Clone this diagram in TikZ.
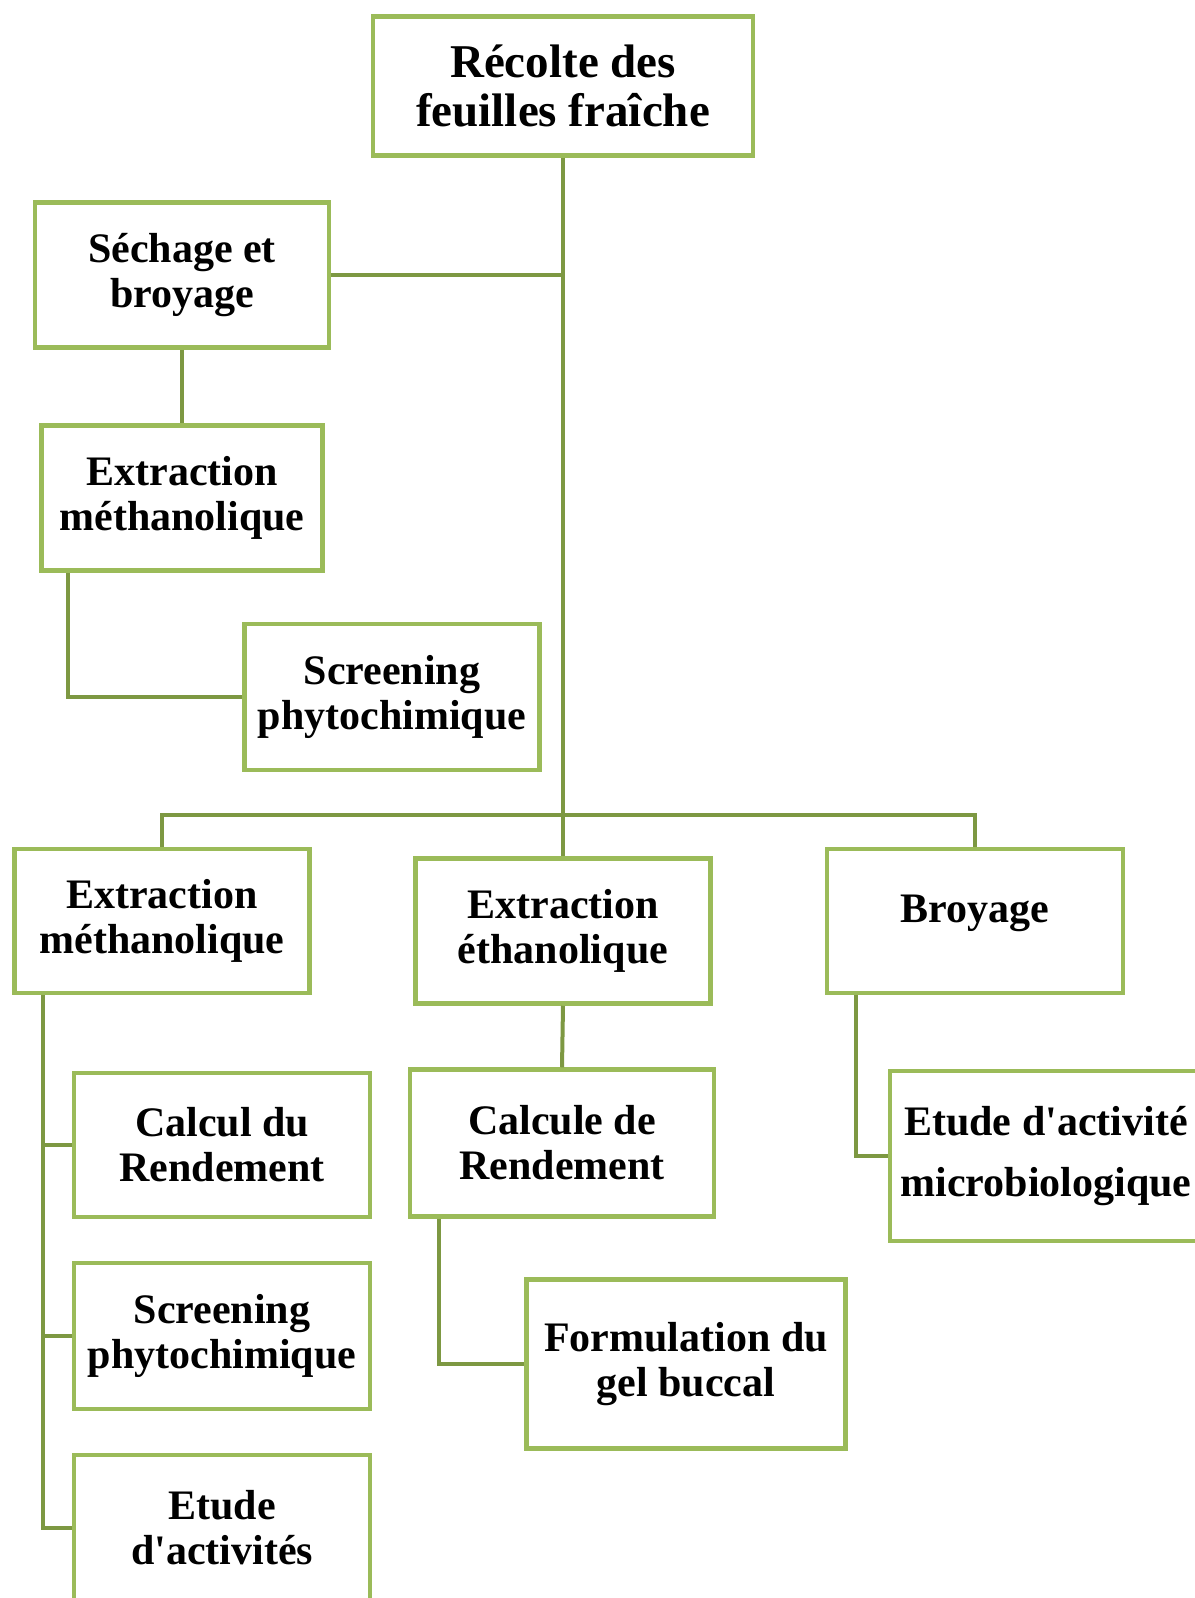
\documentclass[tikz,border=0pt]{standalone}
\usepackage{fontspec}
\setmainfont{Liberation Serif}

\definecolor{boxgreen}{RGB}{155,187,89}
\definecolor{linegreen}{RGB}{125,152,66}

\tikzset{
  etape/.style={draw=boxgreen, line width=4.5pt, align=center, inner sep=0pt,
                font=\bfseries\fontsize{42}{45}\selectfont},
  lien/.style={draw=linegreen, line width=4pt}
}

\begin{document}
\begin{tikzpicture}[x=1pt,y=-1pt]
\useasboundingbox (0,0) rectangle (1194,1598);

% boxes
\node[etape, minimum width=380pt, minimum height=139pt, font=\bfseries\fontsize{47}{49}\selectfont]
   (recolte) at (563,86) {Récolte des\\feuilles fraîche};
\node[etape, minimum width=294pt, minimum height=145pt] (sechage) at (182,275) {Séchage et\\broyage};
\node[etape, minimum width=281pt, minimum height=145pt] (extmA) at (182,498) {Extraction\\méthanolique};
\node[etape, minimum width=295pt, minimum height=146pt] (screenA) at (392,697) {Screening\\phytochimique};

\node[etape, minimum width=295pt, minimum height=144pt] (extmB) at (162,921) {Extraction\\méthanolique};
\node[etape, minimum width=295pt, minimum height=145pt] (exteth) at (563,931) {Extraction\\éthanolique};
\node[etape, minimum width=296pt, minimum height=144pt] (broyage) at (975,921) {\raisebox{24pt}{Broyage}};

\node[etape, minimum width=296pt, minimum height=144pt] (calcul) at (222,1145) {Calcul du\\Rendement};
\node[etape, minimum width=296pt, minimum height=146pt] (screenB) at (222,1336) {Screening\\phytochimique};
\node[etape, minimum width=296pt, minimum height=146pt] (etude) at (222,1528) {Etude\\d\textquotesingle activités};

\node[etape, minimum width=304pt, minimum height=147pt] (calcule) at (562,1143) {Calcule de\\Rendement};
\node[etape, minimum width=319pt, minimum height=169pt] (formul) at (686,1364) {Formulation du\\gel buccal};
\node[etape, minimum width=312pt, minimum height=170pt] (microb) at (1046,1156) {Etude d\textquotesingle activité\\[16pt]microbiologique};

% trunk
\coordinate (barre) at (563,815);
\draw[lien] (recolte.south) -- (barre);
\draw[lien] (sechage.east) -- (sechage.east -| recolte.south);
\draw[lien] (sechage.south) -- (extmA.north);
\draw[lien] ([xshift=29pt]extmA.south west) |- (screenA.west);

% three branches
\draw[lien] (extmB.north) |- (barre) -| (broyage.north);
\draw[lien] (barre) -- (exteth.north);

\foreach \n in {calcul,screenB,etude}
{	\draw[lien] ([xshift=31pt]extmB.south west) |- (\n.west);
}
\draw[lien] (exteth.south) -- (calcule.north);
\draw[lien] ([xshift=31pt]calcule.south west) |- (formul.west);
\draw[lien] ([xshift=31pt]broyage.south west) |- (microb.west);
\end{tikzpicture}
\end{document}
